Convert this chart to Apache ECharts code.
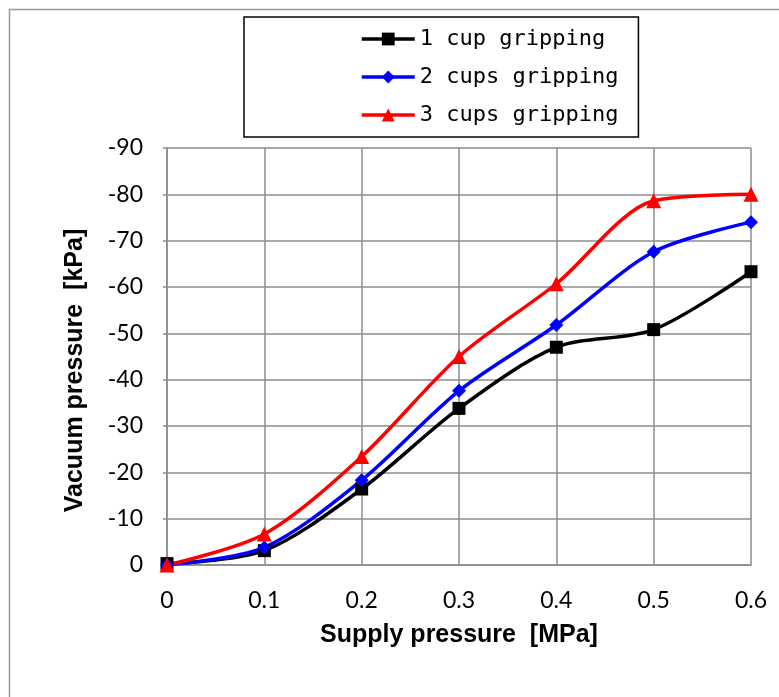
<!DOCTYPE html>
<html>
<head>
<meta charset="utf-8">
<script src="https://cdn.jsdelivr.net/npm/echarts@6/dist/echarts.min.js"></script>
<style>
  html, body { margin: 0; padding: 0; background: #fff; }
  #chart { width: 779px; height: 697px; }
</style>
</head>
<body>
<div id="chart"></div>
<script>
// supply pressure [MPa]
const supply = [0, 0.1, 0.2, 0.3, 0.4, 0.5, 0.6]
// vacuum pressure [kPa]
const oneCup = [-0.3, -3.1, -16.4, -33.8, -47.0, -50.8, -63.3]
const twoCups = [0, -3.8, -18.3, -37.6, -51.8, -67.6, -74.0]
const threeCups = [0, -6.7, -23.4, -45.0, -60.7, -78.6, -80.0]

const seriesNames = ['1 cup gripping', '2 cups gripping', '3 cups gripping']

function pairs(vals) {
  return supply.map((x, i) => [x, vals[i]])
}

const myChart = echarts.init(document.getElementById('chart'))

const labelFont = {
  color: '#000',
  fontFamily: 'Lato',
  fontSize: 23
}
const titleFont = {
  color: '#000',
  fontFamily: 'Liberation Sans',
  fontWeight: 'bold',
  fontSize: 25
}
const gridLine = { color: '#8c8c8c', width: 1.5 }

const option = {
  animation: false,
  backgroundColor: '#fff',
  graphic: [
    {
      // outer chart frame
      type: 'rect',
      left: 7,
      top: 7,
      shape: { width: 820, height: 740 },
      style: { fill: 'none', stroke: '#999', lineWidth: 1.5 }
    }
  ],
  legend: {
    orient: 'vertical',
    left: 244,
    top: 17,
    padding: [10, 20, 10, 116],
    borderColor: '#000',
    borderWidth: 1.5,
    itemWidth: 53,
    itemHeight: 16,
    itemGap: 14,
    lineStyle: { width: 3.5 },
    textStyle: {
      color: '#000',
      fontFamily: 'DejaVu Sans Mono',
      fontSize: 22,
      lineHeight: 24
    },
    data: seriesNames
  },
  grid: {
    left: 167,
    right: 28,
    top: 148,
    bottom: 132
  },
  xAxis: {
    type: 'value',
    min: 0,
    max: 0.6,
    interval: 0.1,
    name: 'Supply pressure  [MPa]',
    nameLocation: 'middle',
    nameGap: 58,
    nameTextStyle: titleFont,
    axisLine: { show: true, lineStyle: gridLine },
    axisTick: { show: false },
    axisLabel: Object.assign({ margin: 24 }, labelFont),
    splitLine: { show: true, lineStyle: gridLine }
  },
  yAxis: {
    type: 'value',
    inverse: true,
    min: -90,
    max: 0,
    interval: 10,
    name: 'Vacuum pressure  [kPa]',
    nameLocation: 'middle',
    nameGap: 79,
    nameTextStyle: Object.assign({ padding: [0, 28, 0, 0] }, titleFont),
    axisLine: { show: true, lineStyle: gridLine },
    axisTick: { show: true, length: 4, lineStyle: gridLine },
    axisLabel: Object.assign({ margin: 24 }, labelFont),
    splitLine: { show: true, lineStyle: gridLine }
  },
  series: [
    {
      name: seriesNames[0],
      type: 'line',
      smooth: 0.3,
      data: pairs(oneCup),
      symbol: 'rect',
      symbolSize: 13,
      itemStyle: { color: '#000' },
      lineStyle: { color: '#000', width: 3.5 }
    },
    {
      name: seriesNames[1],
      type: 'line',
      smooth: 0.3,
      data: pairs(twoCups),
      symbol: 'diamond',
      symbolSize: 14,
      itemStyle: { color: '#0000ff' },
      lineStyle: { color: '#0000ff', width: 3.5 }
    },
    {
      name: seriesNames[2],
      type: 'line',
      smooth: 0.3,
      data: pairs(threeCups),
      symbol: 'triangle',
      symbolSize: 15,
      itemStyle: { color: '#ff0000' },
      lineStyle: { color: '#ff0000', width: 3.5 }
    }
  ]
}

myChart.setOption(option)
</script>
</body>
</html>
